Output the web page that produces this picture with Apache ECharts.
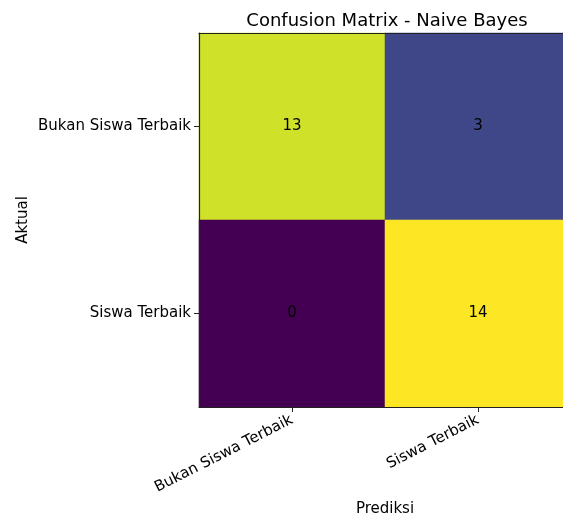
<!DOCTYPE html>
<html>
<head>
<meta charset="utf-8">
<script src="https://cdn.jsdelivr.net/npm/echarts@6/dist/echarts.min.js"></script>
<style>
  html, body { margin: 0; padding: 0; background: #fff; }
  #main { width: 563px; height: 517px; }
</style>
</head>
<body>
<div id="main"></div>
<script>
// labels for both axes
const predLabels = ['Bukan Siswa Terbaik', 'Siswa Terbaik'];
const actualLabels = ['Bukan Siswa Terbaik', 'Siswa Terbaik'];
// confusion matrix rows = actual, cols = predicted
const rowBukan = [13, 3];
const rowSiswa = [0, 14];

const matrix = [rowBukan, rowSiswa];
const cells = [];
matrix.forEach((row, y) => {
  row.forEach((v, x) => cells.push([x, y, v]));
});

const viridis = ['#440154', '#482878', '#3e4989', '#31688e', '#26828e',
  '#1f9e89', '#35b779', '#6ece58', '#b5de2b', '#fde725'];

const font = 'DejaVu Sans';
const frame = { show: true, lineStyle: { color: '#222', width: 1.2 } };
let myChart = echarts.init(document.getElementById('main'));
let option = {
  animation: false,
  title: {
    text: 'Confusion Matrix - Naive Bayes',
    left: 382,
    top: 7,
    textAlign: 'center',
    textStyle: { fontFamily: font, fontSize: 18, fontWeight: 'normal', color: '#000' }
  },
  grid: {
    left: 199,
    top: 33,
    width: 372,
    height: 374,
    outerBoundsMode: 'none',
    containLabel: false
  },
  visualMap: {
    show: false,
    min: 0,
    max: 14,
    dimension: 2,
    seriesIndex: 0,
    inRange: { color: viridis }
  },
  xAxis: [{
    type: 'category',
    data: predLabels,
    z: 5,
    name: 'Prediksi',
    nameLocation: 'middle',
    nameGap: 94,
    nameTextStyle: { fontFamily: font, fontSize: 15, color: '#000' },
    axisLine: frame,
    axisTick: { show: true, alignWithLabel: true, length: 5, lineStyle: { color: '#222' } },
    axisLabel: { rotate: 27, fontFamily: font, fontSize: 15, color: '#000', margin: 12 },
    splitLine: { show: false }
  }, {
    type: 'category',
    data: predLabels,
    position: 'top',
    z: 5,
    axisLine: frame,
    axisTick: { show: false },
    axisLabel: { show: false },
    splitLine: { show: false }
  }],
  yAxis: {
    type: 'category',
    data: actualLabels,
    inverse: true,
    z: 5,
    name: 'Aktual',
    nameLocation: 'middle',
    nameGap: 168,
    nameMoveOverlap: false,
    nameRotate: 90,
    nameTextStyle: { fontFamily: font, fontSize: 15, color: '#000' },
    axisLine: frame,
    axisTick: { show: true, alignWithLabel: true, length: 5, lineStyle: { color: '#222' } },
    axisLabel: { fontFamily: font, fontSize: 15, color: '#000', margin: 8 },
    splitLine: { show: false }
  },
  series: [{
    type: 'heatmap',
    data: cells,
    label: {
      show: true,
      color: '#000',
      fontFamily: font,
      fontSize: 15,
      formatter: p => p.value[2]
    },
    itemStyle: { borderWidth: 0 },
    emphasis: { disabled: true }
  }]
};
myChart.setOption(option);
</script>
</body>
</html>
